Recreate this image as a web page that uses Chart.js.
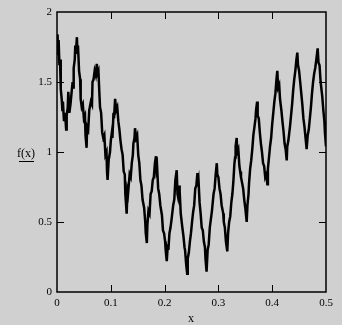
<!DOCTYPE html>
<html>
<head>
<meta charset="utf-8">
<script src="https://cdn.jsdelivr.net/npm/chart.js@4.4.0/dist/chart.umd.min.js"></script>
<style>
  html, body { margin: 0; padding: 0; background: #d0d0d0; }
  #wrap { width: 342px; height: 325px; }
</style>
</head>
<body>
<div id="wrap"><canvas id="plot"></canvas></div>
<script>
// Valeurs (x et f(x), ligne par ligne)
const xValues = [
  0.000, 0.001, 0.002, 0.003, 0.0045, 0.0056, 0.007, 0.0087, 0.010, 0.011,
  0.013, 0.015, 0.017, 0.018, 0.020, 0.021, 0.023, 0.025, 0.027, 0.029,
  0.030, 0.031, 0.033, 0.034, 0.035, 0.037, 0.038, 0.039, 0.041, 0.043,
  0.044, 0.046, 0.048, 0.050, 0.052, 0.053, 0.055, 0.056, 0.058, 0.060,
  0.063, 0.065, 0.066, 0.068, 0.070, 0.072, 0.074, 0.075, 0.077, 0.079,
  0.080, 0.082, 0.084, 0.086, 0.088, 0.090, 0.092, 0.093, 0.094, 0.096,
  0.0985, 0.100, 0.102, 0.103, 0.105, 0.106, 0.108, 0.110, 0.112, 0.114,
  0.116, 0.118, 0.120, 0.122, 0.124, 0.126, 0.127, 0.1295, 0.131, 0.132,
  0.135, 0.137, 0.139, 0.141, 0.142, 0.144, 0.145, 0.147, 0.149, 0.151,
  0.153, 0.155, 0.157, 0.159, 0.162, 0.164, 0.165, 0.167, 0.168, 0.170,
  0.172, 0.174, 0.176, 0.178, 0.180, 0.182, 0.184, 0.185, 0.186, 0.188,
  0.190, 0.192, 0.195, 0.197, 0.199, 0.201, 0.202, 0.204, 0.206, 0.207,
  0.209, 0.211, 0.213, 0.216, 0.218, 0.220, 0.2225, 0.224, 0.225, 0.227,
  0.228, 0.230, 0.233, 0.235, 0.237, 0.238, 0.240, 0.242, 0.243, 0.245,
  0.247, 0.249, 0.251, 0.253, 0.255, 0.257, 0.259, 0.261, 0.262, 0.263,
  0.265, 0.267, 0.269, 0.271, 0.273, 0.275, 0.276, 0.278, 0.280, 0.282,
  0.284, 0.286, 0.288, 0.291, 0.293, 0.295, 0.297, 0.298, 0.300, 0.302,
  0.304, 0.306, 0.309, 0.310, 0.312, 0.314, 0.3165, 0.318, 0.320, 0.322,
  0.324, 0.326, 0.328, 0.3296, 0.331, 0.332, 0.334, 0.335, 0.337, 0.339,
  0.3405, 0.342, 0.344, 0.346, 0.348, 0.350, 0.3526, 0.354, 0.356, 0.357,
  0.359, 0.361, 0.363, 0.365, 0.367, 0.369, 0.370, 0.372, 0.373, 0.375,
  0.377, 0.379, 0.381, 0.383, 0.385, 0.387, 0.389, 0.391, 0.392, 0.394,
  0.396, 0.398, 0.400, 0.402, 0.404, 0.406, 0.408, 0.4095, 0.411, 0.413,
  0.4145, 0.417, 0.419, 0.421, 0.423, 0.425, 0.427, 0.428, 0.430, 0.433,
  0.435, 0.437, 0.439, 0.441, 0.443, 0.445, 0.4467, 0.448, 0.450, 0.452,
  0.454, 0.456, 0.458, 0.460, 0.462, 0.464, 0.466, 0.468, 0.470, 0.472,
  0.474, 0.476, 0.478, 0.480, 0.482, 0.4845, 0.486, 0.488, 0.490, 0.493,
  0.495, 0.497, 0.498, 0.500
];
const fValues = [
  1.72, 1.84, 1.70, 1.80, 1.62, 1.66, 1.45, 1.38, 1.30, 1.36,
  1.22, 1.28, 1.16, 1.26, 1.32, 1.43, 1.28, 1.34, 1.42, 1.50,
  1.46, 1.60, 1.66, 1.76, 1.70, 1.82, 1.72, 1.76, 1.58, 1.52,
  1.38, 1.32, 1.34, 1.24, 1.26, 1.12, 1.03, 1.18, 1.16, 1.30,
  1.36, 1.34, 1.50, 1.52, 1.58, 1.55, 1.63, 1.56, 1.58, 1.40,
  1.32, 1.28, 1.14, 1.10, 1.12, 0.98, 1.00, 0.86, 0.80, 0.94,
  1.00, 1.08, 1.14, 1.10, 1.28, 1.24, 1.38, 1.30, 1.32, 1.22,
  1.16, 1.08, 1.02, 0.98, 0.86, 0.84, 0.70, 0.56, 0.72, 0.70,
  0.84, 0.82, 0.92, 0.98, 1.06, 1.10, 1.17, 1.10, 1.12, 0.98,
  0.92, 0.80, 0.76, 0.66, 0.60, 0.50, 0.42, 0.35, 0.48, 0.58,
  0.56, 0.70, 0.72, 0.80, 0.82, 0.92, 0.97, 0.88, 0.90, 0.74,
  0.70, 0.62, 0.55, 0.44, 0.42, 0.36, 0.30, 0.22, 0.34, 0.30,
  0.42, 0.46, 0.52, 0.62, 0.66, 0.80, 0.87, 0.70, 0.68, 0.76,
  0.72, 0.56, 0.46, 0.40, 0.32, 0.30, 0.20, 0.13, 0.24, 0.28,
  0.36, 0.42, 0.50, 0.57, 0.62, 0.74, 0.76, 0.85, 0.78, 0.80,
  0.64, 0.56, 0.46, 0.44, 0.36, 0.32, 0.24, 0.145, 0.30, 0.34,
  0.46, 0.52, 0.58, 0.70, 0.74, 0.84, 0.92, 0.84, 0.82, 0.74,
  0.70, 0.62, 0.56, 0.50, 0.46, 0.36, 0.29, 0.42, 0.50, 0.54,
  0.64, 0.70, 0.80, 0.91, 0.96, 1.04, 1.10, 1.00, 1.02, 0.90,
  0.86, 0.82, 0.78, 0.74, 0.66, 0.60, 0.50, 0.62, 0.70, 0.78,
  0.88, 0.94, 1.02, 1.12, 1.18, 1.24, 1.30, 1.36, 1.26, 1.24,
  1.14, 1.06, 1.00, 0.92, 0.90, 0.82, 0.84, 0.77, 0.88, 0.96,
  1.04, 1.10, 1.20, 1.28, 1.36, 1.42, 1.52, 1.58, 1.46, 1.48,
  1.38, 1.30, 1.22, 1.15, 1.06, 1.02, 0.94, 1.04, 1.08, 1.18,
  1.26, 1.34, 1.44, 1.52, 1.58, 1.66, 1.71, 1.62, 1.58, 1.50,
  1.42, 1.34, 1.24, 1.18, 1.10, 1.02, 1.12, 1.16, 1.24, 1.32,
  1.42, 1.50, 1.56, 1.60, 1.66, 1.74, 1.64, 1.62, 1.50, 1.40,
  1.30, 1.22, 1.14, 1.04
];

const xTicks = [0, 0.1, 0.2, 0.3, 0.4, 0.5];
const xTickLabels = ['0', '0.1', '0.2', '0.3', '0.4', '0.5'];
const yTicks = [0, 0.5, 1, 1.5, 2];
const yTickLabels = ['0', '0.5', '1', '1.5', '2'];
const xTitle = 'x';
const yTitle = 'f(x)';

const points = xValues.map(function(x, i) {
    return { x: x, y: fValues[i] };
});

// Cadre, graduations intérieures et titres
const framePlugin = {
    id: 'frame',
    afterDatasetsDraw: function(chart) {
        const ctx = chart.ctx;
        const a = chart.chartArea;
        const xs = chart.scales.x;
        const ys = chart.scales.y;
        const len = 7;
        ctx.save();
        ctx.strokeStyle = '#000';
        ctx.lineWidth = 1.5;
        ctx.strokeRect(a.left, a.top, a.right - a.left, a.bottom - a.top);

        ctx.lineWidth = 1;
        ctx.beginPath();
        xTicks.slice(1, -1).forEach(function(v) {
            const px = Math.round(xs.getPixelForValue(v)) + 0.5;
            ctx.moveTo(px, a.bottom);
            ctx.lineTo(px, a.bottom - len);
            ctx.moveTo(px, a.top);
            ctx.lineTo(px, a.top + len);
        });
        yTicks.slice(1, -1).forEach(function(v) {
            const py = Math.round(ys.getPixelForValue(v)) + 0.5;
            ctx.moveTo(a.left, py);
            ctx.lineTo(a.left + len, py);
            ctx.moveTo(a.right, py);
            ctx.lineTo(a.right - len, py);
        });
        ctx.stroke();

        ctx.fillStyle = '#000';
        ctx.font = '12px "Liberation Serif", serif';
        ctx.textBaseline = 'middle';
        ctx.textAlign = 'left';
        ctx.fillText(yTitle, 17, 154);
        ctx.fillRect(19, 161, 15, 1);
        ctx.textAlign = 'center';
        ctx.fillText(xTitle, 191, 319);
        ctx.restore();
    }
};

new Chart(document.getElementById('plot').getContext('2d'), {
    type: 'line',
    data: {
        datasets: [{
            data: points,
            borderColor: '#000',
            borderWidth: 2.5,
            pointRadius: 0,
            tension: 0,
            fill: false
        }]
    },
    options: {
        responsive: true,
        maintainAspectRatio: false,
        animation: false,
        layout: {
            padding: { left: 0, top: 12, right: 16, bottom: 0 }
        },
        plugins: {
            legend: { display: false },
            tooltip: { enabled: false }
        },
        scales: {
            x: {
                type: 'linear',
                min: 0,
                max: 0.5,
                afterBuildTicks: function(scale) {
                    scale.ticks = xTicks.map(function(v) { return { value: v }; });
                },
                afterFit: function(scale) {
                    scale.height = 33;
                },
                grid: { display: false, drawTicks: false },
                border: { display: false },
                ticks: {
                    color: '#000',
                    padding: 5,
                    maxRotation: 0,
                    font: { family: '"Liberation Serif", serif', size: 11 },
                    callback: function(value) {
                        return xTickLabels[xTicks.indexOf(value)];
                    }
                }
            },
            y: {
                type: 'linear',
                min: 0,
                max: 2,
                afterBuildTicks: function(scale) {
                    scale.ticks = yTicks.map(function(v) { return { value: v }; });
                },
                afterFit: function(scale) {
                    scale.width = 57;
                },
                grid: { display: false, drawTicks: false },
                border: { display: false },
                ticks: {
                    color: '#000',
                    padding: 5,
                    font: { family: '"Liberation Serif", serif', size: 11 },
                    callback: function(value) {
                        return yTickLabels[yTicks.indexOf(value)];
                    }
                }
            }
        }
    },
    plugins: [framePlugin]
});
</script>
</body>
</html>
